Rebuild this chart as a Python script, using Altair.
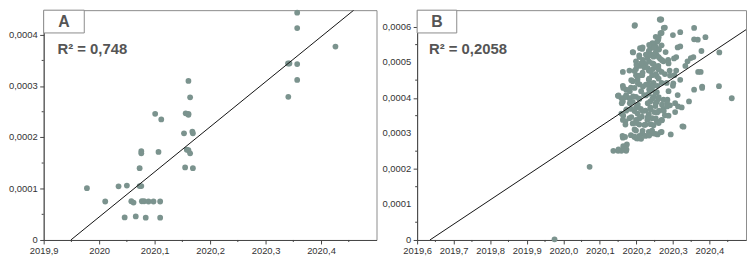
import altair as alt
import pandas as pd

# ---------------- Panel A data ----------------
a_x = [2019.978, 2020.011, 2020.035, 2020.050, 2020.046, 2020.058, 2020.062, 2020.066,
       2020.073, 2020.073, 2020.076, 2020.076, 2020.076, 2020.077, 2020.081, 2020.084,
       2020.089, 2020.098, 2020.101, 2020.107, 2020.110, 2020.110, 2020.112, 2020.153,
       2020.155, 2020.156, 2020.158, 2020.161, 2020.161, 2020.161, 2020.161, 2020.164,
       2020.164, 2020.168, 2020.169, 2020.169, 2020.3405, 2020.343, 2020.341, 2020.357,
       2020.357, 2020.357, 2020.357, 2020.426]
a_y = [0.000101, 0.000075, 0.0001045, 0.000106, 0.000044, 0.0000755, 0.000073, 0.000046,
       0.000140, 0.000105, 0.000105, 0.000173, 0.000169, 0.0000755, 0.0000755, 0.0000435,
       0.000075, 0.000075, 0.000246, 0.0001716, 0.000075, 0.0000435, 0.000235, 0.000208,
       0.0001414, 0.000247, 0.000176, 0.000246, 0.000310, 0.000244, 0.000175, 0.000278,
       0.000169, 0.000211, 0.000208, 0.000140, 0.000344, 0.000344, 0.000279, 0.000443,
       0.000413, 0.000343, 0.000312, 0.000377]
a_fit_x = [2019.949, 2020.459]
a_fit_y = [0.0, 0.000448]

# ---------------- Panel B data ----------------
b_x = [2019.976, 2020.072, 2020.196, 2020.264, 2020.268, 2020.278, 2020.320, 2020.358,
       2020.358, 2020.368, 2020.389, 2020.378, 2020.427, 2020.426, 2020.461, 2020.369,
       2020.376, 2020.380, 2020.380, 2020.358, 2020.294, 2020.326, 2020.329, 2020.292,
       2020.313, 2020.306, 2020.344, 2020.324, 2020.334, 2020.349, 2020.356, 2020.340,
       2020.313, 2020.320, 2020.300, 2020.309, 2020.303, 2020.309, 2020.304, 2020.320,
       2020.300,
       2020.137, 2020.150, 2020.159, 2020.172, 2020.174, 2020.162, 2020.163, 2020.185,
       2020.170, 2020.170, 2020.150, 2020.163, 2020.190, 2020.210, 2020.201, 2020.205,
       2020.260, 2020.253, 2020.250, 2020.243, 2020.238, 2020.254, 2020.262, 2020.234,
       2020.269, 2020.269, 2020.216,
       2020.208, 2020.218, 2020.230, 2020.238, 2020.247, 2020.256, 2020.265, 2020.274,
       2020.280, 2020.287, 2020.225, 2020.247, 2020.199,
       2020.181, 2020.199, 2020.208, 2020.221, 2020.234, 2020.245, 2020.252, 2020.260,
       2020.269, 2020.278, 2020.291, 2020.199, 2020.216, 2020.243, 2020.256,
       2020.190, 2020.203, 2020.209, 2020.218, 2020.234, 2020.247, 2020.257, 2020.269,
       2020.283, 2020.185, 2020.172, 2020.163, 2020.234,
       2020.150, 2020.159, 2020.172, 2020.181, 2020.199, 2020.208, 2020.221, 2020.234,
       2020.247, 2020.260, 2020.274, 2020.285, 2020.163, 2020.190, 2020.238, 2020.256,
       2020.243, 2020.256,
       2020.172, 2020.185, 2020.199, 2020.212, 2020.225, 2020.238, 2020.252, 2020.262,
       2020.274, 2020.159, 2020.203, 2020.234, 2020.249,
       2020.163, 2020.181, 2020.199, 2020.215, 2020.230, 2020.243, 2020.256, 2020.269,
       2020.278, 2020.208, 2020.225, 2020.247, 2020.190,
       2020.199, 2020.216, 2020.234, 2020.243, 2020.252, 2020.258, 2020.269, 2020.225,
       2020.208, 2020.194, 2020.205,
       2020.266, 2020.195, 2020.275, 2020.266, 2020.261, 2020.257, 2020.244, 2020.235,
       2020.217, 2020.248, 2020.253, 2020.239, 2020.226, 2020.191, 2020.208, 2020.261,
       2020.270, 2020.235, 2020.244, 2020.213, 2020.253, 2020.231, 2020.261, 2020.200,
       2020.195, 2020.217, 2020.208, 2020.239, 2020.253, 2020.235, 2020.261, 2020.186,
       2020.204, 2020.226, 2020.244, 2020.195, 2020.164, 2020.182, 2020.213, 2020.235,
       2020.253, 2020.151, 2020.169, 2020.191, 2020.208, 2020.226, 2020.244, 2020.261,
       2020.160, 2020.182, 2020.204, 2020.231, 2020.253, 2020.270, 2020.284, 2020.173,
       2020.195, 2020.217, 2020.239, 2020.257, 2020.275, 2020.164, 2020.186, 2020.208,
       2020.231, 2020.253, 2020.270, 2020.200, 2020.222, 2020.239, 2020.261, 2020.195,
       2020.217, 2020.244, 2020.266, 2020.169, 2020.195, 2020.213, 2020.235, 2020.164,
       2020.151, 2020.173,
       2020.306, 2020.314, 2020.288, 2020.292, 2020.301, 2020.288, 2020.284, 2020.288]
b_y = [0.000002, 0.000206, 0.000605, 0.000621, 0.000621, 0.000598, 0.000585, 0.000597,
       0.000565, 0.000564, 0.000571, 0.000532, 0.000528, 0.000433, 0.000399, 0.000473,
       0.000473, 0.000432, 0.000428, 0.000423, 0.000297, 0.000320, 0.000319, 0.000379,
       0.000408, 0.000360, 0.000390, 0.000373, 0.000490, 0.000512, 0.000515, 0.000503,
       0.000542, 0.000545, 0.000577, 0.000515, 0.000511, 0.000477, 0.000464, 0.000451,
       0.000434,
       0.000251, 0.000251, 0.000251, 0.000251, 0.000269, 0.000293, 0.000288, 0.000295,
       0.000334, 0.000325, 0.000406, 0.000473, 0.000529, 0.000540, 0.000286, 0.000286,
       0.000564, 0.000572, 0.000553, 0.000546, 0.000539, 0.000542, 0.000536, 0.000532,
       0.000548, 0.000583, 0.000538,
       0.000520, 0.000507, 0.000512, 0.000520, 0.000516, 0.000520, 0.000510, 0.000503,
       0.000529, 0.000507, 0.000496, 0.000496, 0.000503,
       0.000477, 0.000481, 0.000490, 0.000486, 0.000477, 0.000481, 0.000487, 0.000490,
       0.000473, 0.000467, 0.000477, 0.000464, 0.000464, 0.000464, 0.000461,
       0.000447, 0.000451, 0.000438, 0.000432, 0.000438, 0.000442, 0.000434, 0.000442,
       0.000442, 0.000429, 0.000423, 0.000434, 0.000451,
       0.000406, 0.000399, 0.000408, 0.000399, 0.000403, 0.000397, 0.000408, 0.000412,
       0.000403, 0.000397, 0.000395, 0.000395, 0.000390, 0.000389, 0.000390, 0.000389,
       0.000421, 0.000416,
       0.000364, 0.000369, 0.000373, 0.000369, 0.000364, 0.000373, 0.000377, 0.000364,
       0.000369, 0.000356, 0.000356, 0.000354, 0.000360,
       0.000338, 0.000343, 0.000338, 0.000347, 0.000338, 0.000343, 0.000334, 0.000338,
       0.000351, 0.000325, 0.000325, 0.000323, 0.000328,
       0.000308, 0.000299, 0.000304, 0.000308, 0.000299, 0.000297, 0.000304, 0.000293,
       0.000293, 0.000291, 0.000288,
       0.000620, 0.000603, 0.000597, 0.000582, 0.000571, 0.000558, 0.000554, 0.000549,
       0.000542, 0.000541, 0.000528, 0.000523, 0.000522, 0.000528, 0.000515, 0.000515,
       0.000506, 0.000502, 0.000497, 0.000497, 0.000489, 0.000484, 0.000480, 0.000493,
       0.000476, 0.000471, 0.000463, 0.000476, 0.000467, 0.000454, 0.000454, 0.000450,
       0.000441, 0.000437, 0.000432, 0.000428, 0.000428, 0.000419, 0.000419, 0.000424,
       0.000415, 0.000407, 0.000402, 0.000404, 0.000398, 0.000407, 0.000398, 0.000402,
       0.000385, 0.000385, 0.000381, 0.000385, 0.000385, 0.000381, 0.000385, 0.000368,
       0.000363, 0.000363, 0.000368, 0.000359, 0.000363, 0.000350, 0.000346, 0.000342,
       0.000346, 0.000342, 0.000337, 0.000329, 0.000324, 0.000326, 0.000329, 0.000311,
       0.000307, 0.000300, 0.000303, 0.000290, 0.000290, 0.000285, 0.000294, 0.000264,
       0.000255, 0.000255,
       0.000385, 0.000376, 0.000497, 0.000463, 0.000441, 0.000419, 0.000376, 0.000350]
b_fit_x = [2019.635, 2020.5]
b_fit_y = [0.0, 0.000592]

# axis ticks (major with labels, minor without)
a_xmajor = [2019.9, 2020.0, 2020.1, 2020.2, 2020.3, 2020.4]
a_xminor = [2019.95, 2020.05, 2020.15, 2020.25, 2020.35, 2020.45]
a_ymajor = [0, 0.0001, 0.0002, 0.0003, 0.0004]
a_ylabels = ["0", "0,0001", "0,0002", "0,0003", "0,0004"]
a_yminor = [0.00005, 0.00015, 0.00025, 0.00035]
b_xmajor = [2019.6, 2019.7, 2019.8, 2019.9, 2020.0, 2020.1, 2020.2, 2020.3, 2020.4]
b_xminor = [2019.65, 2019.75, 2019.85, 2019.95, 2020.05, 2020.15, 2020.25, 2020.35,
            2020.45]
b_ymajor = [0, 0.0001, 0.0002, 0.0003, 0.0004, 0.0005, 0.0006]
b_ylabels = ["0", "0,0001", "0,0002", "0,0003", "0,0004", "0,0005", "0,0006"]
b_yminor = [0.00005, 0.00015, 0.00025, 0.00035, 0.00045, 0.00055]

DOT = "#7b938e"
TXT = "#555555"
FONT = "Liberation Sans"
AXC = "#444444"
LBL = "#333333"


def panel(px, py, fx, fy, xdom, ydom, xmaj, xmin, ymaj, ylab, ymin, xfmt,
          letter, r2, w, h, box_w, r2_x):
    pts = pd.DataFrame({"x": px, "y": py})
    fit = pd.DataFrame({"x": fx, "y": fy})
    xs = alt.Scale(domain=xdom, nice=False, zero=False)
    ys = alt.Scale(domain=ydom, nice=False, zero=False)
    dots = alt.Chart(pts).mark_circle(size=34, color=DOT, opacity=1).encode(
        x=alt.X("x:Q", scale=xs, title=None, axis=alt.Axis(
            values=xmaj, grid=False, tickSize=4, labelOverlap=False, labelFlush=False,
            labelExpr=f"replace(format(datum.value, '{xfmt}'), '.', ',')")),
        y=alt.Y("y:Q", scale=ys, title=None, axis=alt.Axis(
            values=ymaj, grid=False, tickSize=4, labels=False)),
    )
    ylabels = alt.Chart(pd.DataFrame({"y": ymaj, "t": ylab})).mark_text(
        align="right", baseline="middle", font=FONT, fontSize=9.5, color=LBL
    ).encode(y="y:Q", x=alt.value(-6), text="t:N")
    line = alt.Chart(fit).mark_line(color="#111111", strokeWidth=1, clip=True).encode(
        x="x:Q", y="y:Q"
    )
    xminor = alt.Chart(pd.DataFrame({"x": xmin})).mark_rule(color=AXC, strokeWidth=1).encode(
        x="x:Q", y=alt.value(h), y2=alt.value(h + 2)
    )
    yminor = alt.Chart(pd.DataFrame({"y": ymin})).mark_rule(color=AXC, strokeWidth=1).encode(
        y="y:Q", x=alt.value(-2), x2=alt.value(0)
    )
    one = pd.DataFrame({"k": [0]})
    box = alt.Chart(one).mark_rect(fill="white", stroke="#8c8c8c", strokeWidth=1).encode(
        x=alt.value(0), x2=alt.value(box_w), y=alt.value(0), y2=alt.value(23)
    )
    lab = alt.Chart(one).mark_text(
        text=letter, fontSize=16, fontWeight="bold", color=TXT, font=FONT,
        align="center", baseline="middle"
    ).encode(x=alt.value(box_w / 2), y=alt.value(12))
    r2t = alt.Chart(one).mark_text(
        text=r2, fontSize=15, fontWeight="bold", color=TXT, font=FONT,
        align="left", baseline="alphabetic"
    ).encode(x=alt.value(r2_x), y=alt.value(44))
    return alt.layer(dots, line, xminor, yminor, ylabels, box, lab, r2t).properties(
        width=w, height=h)


H = 232
A = panel(a_x, a_y, a_fit_x, a_fit_y, [2019.9, 2020.5], [0, 0.000448],
          a_xmajor, a_xminor, a_ymajor, a_ylabels, a_yminor, ".1~f", "A", "R² = 0,748",
          336, H, 41, 14)
B = panel(b_x, b_y, b_fit_x, b_fit_y, [2019.6, 2020.5], [0, 0.000647],
          b_xmajor, b_xminor, b_ymajor, b_ylabels, b_yminor, ".1f", "B", "R² = 0,2058",
          332, H, 40, 12)

chart = alt.hconcat(A, B, spacing=4).properties(padding=0).configure_view(
    stroke="#8c8c8c", strokeWidth=1
).configure_axis(
    labelFont=FONT, labelFontSize=9.5, labelColor=LBL,
    domainColor=AXC, tickColor=AXC, labelPadding=2,
)

chart.save("out.html", embed_options={"renderer": "svg", "actions": False})
